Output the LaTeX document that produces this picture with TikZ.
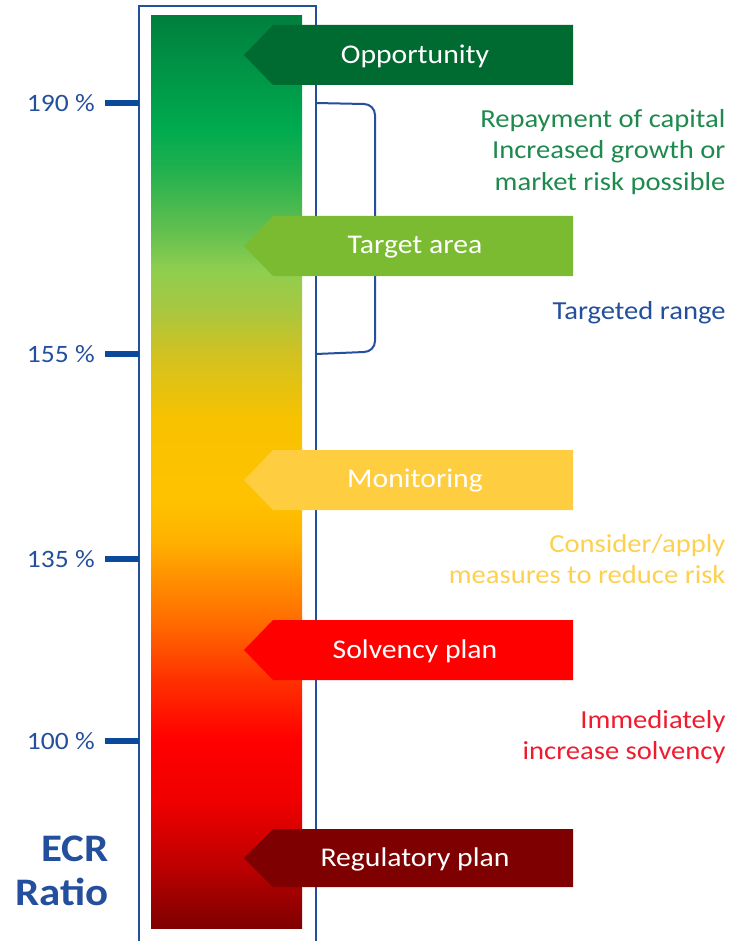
\documentclass[tikz,border=0pt]{standalone}
\usepackage{fontspec}
\setmainfont[FakeStretch=1.1]{Carlito}
\usetikzlibrary{positioning}

\definecolor{ecrblue}{HTML}{234F9C}
\definecolor{tickblue}{HTML}{0B4A9B}
\definecolor{oppgreen}{HTML}{006B30}
\definecolor{targetgreen}{HTML}{7BBB32}
\definecolor{monyellow}{HTML}{FECD40}
\definecolor{solvred}{HTML}{FF0000}
\definecolor{regred}{HTML}{7F0000}
\definecolor{notegreen}{HTML}{1E8A4E}
\definecolor{noteyellow}{HTML}{FDD050}
\definecolor{notered}{HTML}{EE1C2E}

\pgfdeclareverticalshading{ecrbar}{100bp}{%
  color(0bp)=(regred);
  rgb(25bp)=(0.50,0,0);
  rgb(28.7bp)=(0.76,0,0);
  rgb(32bp)=(0.94,0,0);
  rgb(35.3bp)=(1,0,0);
  rgb(38.6bp)=(1,0.19,0);
  rgb(41.9bp)=(1,0.43,0);
  rgb(44.1bp)=(1,0.56,0);
  rgb(46.3bp)=(1,0.70,0);
  rgb(48.5bp)=(1,0.76,0);
  rgb(52.9bp)=(0.97,0.76,0);
  rgb(56.5bp)=(0.82,0.76,0.13);
  rgb(58.9bp)=(0.66,0.78,0.25);
  rgb(61.1bp)=(0.56,0.81,0.31);
  rgb(63.3bp)=(0.38,0.75,0.31);
  rgb(66.6bp)=(0.13,0.69,0.31);
  rgb(68.8bp)=(0,0.67,0.31);
  rgb(75bp)=(0,0.50,0.24);
  rgb(100bp)=(0,0.50,0.24)}

\tikzset{
  frame/.style={draw=ecrblue,line width=1.5pt},
  bracket/.style={draw=ecrblue,line width=2pt},
  tick/.style={draw=tickblue,line width=6pt},
  ticklabel/.style={text=ecrblue,font=\fontsize{25}{28}\selectfont},
  flagtext/.style={text=white,font=\fontsize{27}{30}\selectfont},
  note/.style={anchor=east,align=right,font=\fontsize{26}{31.5}\selectfont}
}

\begin{document}
\begin{tikzpicture}[x=1pt,y=-1pt]
\useasboundingbox (0,0) rectangle (740,941);
\draw[frame] (139,941) -- (139,6) -- (316,6) -- (316,941);
\shade[shading=ecrbar] (151,16) rectangle (302,928);
\draw[bracket] (316,103) -- (364,104) to[out=0,in=90] (375,115) -- (375,341) to[out=-90,in=0] (364,352) -- (316,354);
\draw[tick] (139,103) -- (105,103) node[ticklabel,left=4pt,pos=1] (t190) {190 \%};
\draw[tick] (139,354) -- (105,354) node[ticklabel,left=4pt,pos=1] (t155) {155 \%};
\draw[tick] (139,559) -- (105,559) node[ticklabel,left=4pt,pos=1] (t135) {135 \%};
\draw[tick] (139,741) -- (105,741) node[ticklabel,left=4pt,pos=1] (t100) {100 \%};
\node[anchor=east,align=right,text=ecrblue,font=\bfseries\fontsize{39}{44}\selectfont] (ecr) at (112,871) {ECR\\Ratio};
\fill[oppgreen] (244,55) -- (273,25) -- (573,25) -- (573,85) -- (273,85) -- cycle;
\node[flagtext] (opp) at (415,56) {Opportunity};
\fill[targetgreen] (244,246) -- (273,216) -- (573,216) -- (573,276) -- (273,276) -- cycle;
\node[flagtext] (target) at (415,247) {Target area};
\fill[monyellow] (244,480) -- (273,450) -- (573,450) -- (573,510) -- (273,510) -- cycle;
\node[flagtext] (mon) at (415,481) {Monitoring};
\fill[solvred] (244,650) -- (273,620) -- (573,620) -- (573,680) -- (273,680) -- cycle;
\node[flagtext] (solv) at (415,651) {Solvency plan};
\fill[regred] (244,858) -- (273,829) -- (573,829) -- (573,887) -- (273,887) -- cycle;
\node[flagtext] (reg) at (415,859) {Regulatory plan};
\node[note,text=notegreen] (oppnote) at (729,152) {Repayment of capital\\Increased growth or\\market risk possible};
\node[note,text=ecrblue] (targetnote) at (729,313) {Targeted range};
\node[note,text=noteyellow] (monnote) at (729,559) {Consider/apply\\measures to reduce risk};
\node[note,text=notered] (solvnote) at (729,737) {Immediately\\increase solvency};
\end{tikzpicture}
\end{document}
